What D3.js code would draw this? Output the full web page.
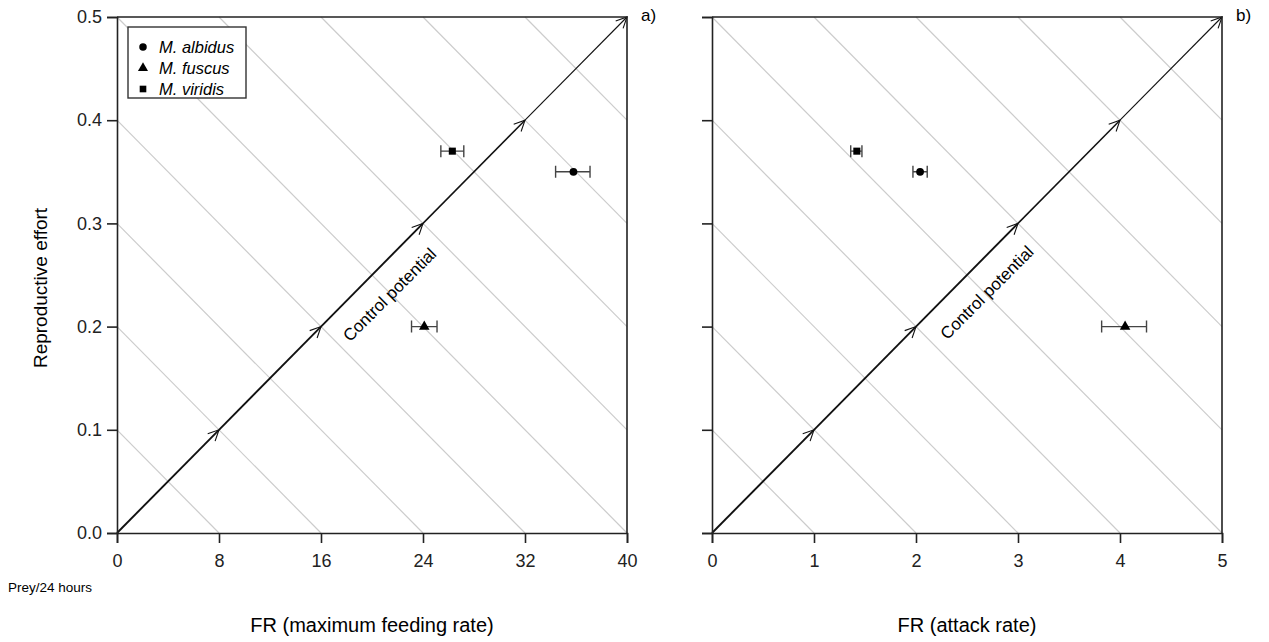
<!DOCTYPE html>
<html>
<head>
<meta charset="utf-8">
<script src="https://cdn.jsdelivr.net/npm/d3@7"></script>
<style>
body { margin: 0; background: #fff; }
svg { font-family: "Liberation Sans", Arial, sans-serif; }
</style>
</head>
<body>
<div id="root"></div>
<script>
var species = ["M. albidus", "M. fuscus", "M. viridis"];
var effort = [0.35, 0.20, 0.37];
// panel a: maximum feeding rate
var feedMean = [35.8, 24.1, 26.3];
var feedLo = [34.4, 23.1, 25.4];
var feedHi = [37.1, 25.1, 27.2];
// panel b: attack rate
var attackMean = [2.04, 4.05, 1.42];
var attackLo = [1.97, 3.82, 1.36];
var attackHi = [2.11, 4.26, 1.47];

var feedTicks = [0, 8, 16, 24, 32, 40];
var attackTicks = [0, 1, 2, 3, 4, 5];
var effortTicks = [0, 0.1, 0.2, 0.3, 0.4, 0.5];
var isoLevels = [0.2, 0.4, 0.6, 0.8, 1.0, 1.2, 1.4, 1.6, 1.8];
var arrowSteps = [0, 0.2, 0.4, 0.6, 0.8, 1.0];

var width = 1269, height = 642;
var svg = d3.select("#root").append("svg")
    .attr("width", width)
    .attr("height", height);

var y = d3.scaleLinear().domain([0, 0.5]).range([533, 17]);
var shapes = [d3.symbolCircle, d3.symbolTriangle, d3.symbolSquare];

function panel(x, xmax, xticks, means, lo, hi, tag, showYLabels, cpPos) {
    var g = svg.append("g");
    var xn = function(f) { return x(f * xmax); };
    var yn = function(f) { return y(f * 0.5); };

    // iso lines x/xmax + y/ymax = c
    isoLevels.forEach(function(c) {
        var x1 = Math.max(0, c - 1), y1 = c - x1;
        var y2 = Math.max(0, c - 1), x2 = c - y2;
        g.append("line")
            .attr("x1", xn(x1)).attr("y1", yn(y1))
            .attr("x2", xn(x2)).attr("y2", yn(y2))
            .attr("stroke", "#cccccc").attr("stroke-width", 1.2);
    });

    // control potential arrows
    for (var i = 1; i < arrowSteps.length; i++) {
        var a = arrowSteps[i - 1], b = arrowSteps[i];
        var px1 = xn(a), py1 = yn(a), px2 = xn(b), py2 = yn(b);
        var sw = i <= 3 ? 1.9 : (i == 4 ? 1.5 : 1.1);
        g.append("line")
            .attr("x1", px1).attr("y1", py1).attr("x2", px2).attr("y2", py2)
            .attr("stroke", "#111").attr("stroke-width", sw);
        var ang = Math.atan2(py2 - py1, px2 - px1), len = 12, spread = Math.PI / 7;
        var p = [
            [px2 - len * Math.cos(ang - spread), py2 - len * Math.sin(ang - spread)],
            [px2, py2],
            [px2 - len * Math.cos(ang + spread), py2 - len * Math.sin(ang + spread)]
        ];
        g.append("path")
            .attr("d", d3.line()(p))
            .attr("fill", "none").attr("stroke", "#111").attr("stroke-width", 1.1);
    }

    g.append("text")
        .attr("transform", "translate(" + x(cpPos[0]) + "," + y(cpPos[1]) + ") rotate(-45)")
        .attr("text-anchor", "middle")
        .attr("font-size", 17)
        .text("Control potential");

    // frame
    var x0 = x.range()[0], x1r = x.range()[1];
    g.append("path")
        .attr("d", "M" + x0 + ",17H" + x1r + "V533")
        .attr("fill", "none").attr("stroke", "#222").attr("stroke-width", 1.6);

    var xAxis = g.append("g")
        .attr("transform", "translate(0,533)")
        .call(d3.axisBottom(x).tickValues(xticks).tickSizeOuter(0).tickSize(10).tickPadding(11)
            .tickFormat(d3.format("d")));
    xAxis.selectAll("text").attr("font-size", 18).attr("fill", "#222");
    xAxis.selectAll("line, path").attr("stroke", "#222").attr("stroke-width", 1.6);

    var yAxis = g.append("g")
        .attr("transform", "translate(" + x0 + ",0)")
        .call(d3.axisLeft(y).tickValues(effortTicks).tickSizeOuter(0).tickSize(10).tickPadding(5)
            .tickFormat(showYLabels ? d3.format(".1f") : function() { return ""; }));
    yAxis.selectAll("text").attr("font-size", 18).attr("fill", "#222");
    yAxis.selectAll("line, path").attr("stroke", "#222").attr("stroke-width", 1.6);
    g.selectAll(".domain").attr("fill", "none");

    // error bars and points
    means.forEach(function(m, k) {
        var py = y(effort[k]);
        g.append("path")
            .attr("d", "M" + x(lo[k]) + "," + py + "H" + x(hi[k]) +
                "M" + x(lo[k]) + "," + (py - 6) + "V" + (py + 6) +
                "M" + x(hi[k]) + "," + (py - 6) + "V" + (py + 6))
            .attr("fill", "none").attr("stroke", "#444").attr("stroke-width", 1.4);
        g.append("path")
            .attr("transform", "translate(" + x(m) + "," + py + ")")
            .attr("d", d3.symbol().type(shapes[k]).size(k == 2 ? 50 : 48)())
            .attr("fill", "#000");
    });

    svg.append("text")
        .attr("x", x1r + 14).attr("y", 21)
        .attr("font-size", 17)
        .text(tag);
}

var xa = d3.scaleLinear().domain([0, 40]).range([117, 627]);
var xb = d3.scaleLinear().domain([0, 5]).range([712, 1222]);

panel(xa, 40, feedTicks, feedMean, feedLo, feedHi, "a)", true, [21.7, 0.227]);
panel(xb, 5, attackTicks, attackMean, attackLo, attackHi, "b)", false, [2.735, 0.229]);

// legend
var leg = svg.append("g").attr("transform", "translate(128,27)");
leg.append("rect")
    .attr("width", 118).attr("height", 71)
    .attr("fill", "#fff").attr("stroke", "#333").attr("stroke-width", 1.4);
species.forEach(function(s, k) {
    leg.append("path")
        .attr("transform", "translate(15," + (20 + k * 21) + ")")
        .attr("d", d3.symbol().type(shapes[k]).size(44)())
        .attr("fill", "#000");
    leg.append("text")
        .attr("x", 31).attr("y", 26 + k * 21)
        .attr("font-size", 16.5).attr("font-style", "italic")
        .text(s);
});

// axis titles
svg.append("text")
    .attr("transform", "translate(47,288) rotate(-90)")
    .attr("text-anchor", "middle").attr("font-size", 19)
    .text("Reproductive effort");
svg.append("text")
    .attr("x", 372).attr("y", 632)
    .attr("text-anchor", "middle").attr("font-size", 20)
    .text("FR (maximum feeding rate)");
svg.append("text")
    .attr("x", 967).attr("y", 632)
    .attr("text-anchor", "middle").attr("font-size", 20)
    .text("FR (attack rate)");
svg.append("text")
    .attr("x", 8).attr("y", 592)
    .attr("font-size", 13.5)
    .text("Prey/24 hours");
</script>
</body>
</html>
